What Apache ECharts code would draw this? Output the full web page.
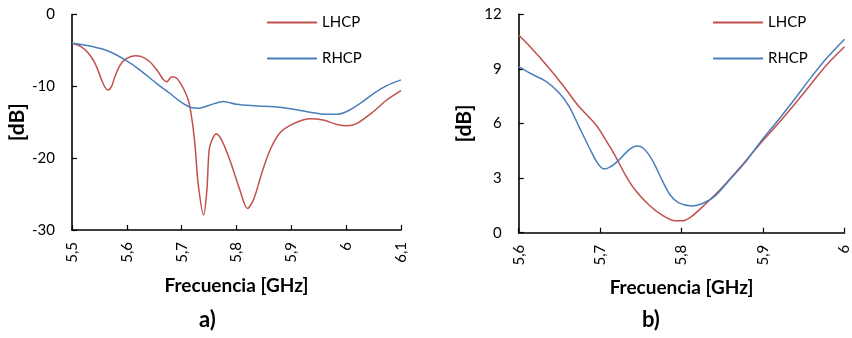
<!DOCTYPE html>
<html>
<head>
<meta charset="utf-8">
<script src="https://cdn.jsdelivr.net/npm/echarts@6/dist/echarts.min.js"></script>
<style>
  html, body { margin: 0; padding: 0; background: #fff; }
  #chart { width: 852px; height: 338px; }
</style>
</head>
<body>
<div id="chart"></div>
<script>
// a) sweep 5.5–6.1 GHz
const freqA_L = [5.5, 5.515, 5.530, 5.542, 5.554, 5.560, 5.566, 5.572, 5.578, 5.588, 5.600, 5.615, 5.627, 5.642, 5.657, 5.667, 5.673, 5.682, 5.691, 5.703, 5.712, 5.718, 5.724, 5.730, 5.740, 5.746, 5.750, 5.755, 5.763, 5.773, 5.788, 5.806, 5.820, 5.831, 5.846, 5.861, 5.879, 5.904, 5.934, 5.958, 5.983, 6.001, 6.019, 6.050, 6.074, 6.1];
const lhcpA = [-4.0, -4.4, -5.4, -6.8, -9.1, -10.1, -10.5, -10.05, -8.7, -7.0, -6.1, -5.73, -5.87, -6.57, -7.96, -9.1, -9.35, -8.66, -8.88, -10.27, -11.9, -14.2, -17.9, -23.5, -27.9, -24.4, -18.9, -17.5, -16.6, -17.5, -20.3, -24.4, -27.0, -25.8, -22.1, -18.9, -16.5, -15.2, -14.5, -14.7, -15.3, -15.5, -15.2, -13.5, -11.9, -10.6];
const freqA_R = [5.5, 5.533, 5.569, 5.597, 5.624, 5.654, 5.679, 5.697, 5.715, 5.730, 5.752, 5.776, 5.800, 5.831, 5.879, 5.904, 5.934, 5.964, 5.983, 6.001, 6.025, 6.050, 6.074, 6.1];
const rhcpA = [-4.0, -4.4, -5.18, -6.33, -7.73, -9.58, -11.0, -12.1, -12.9, -13.06, -12.6, -12.1, -12.5, -12.7, -12.9, -13.2, -13.6, -13.9, -13.9, -13.5, -12.4, -11.0, -9.9, -9.1];

// b) sweep 5.6–6.0 GHz
const freqB_L = [5.6, 5.614, 5.634, 5.654, 5.674, 5.695, 5.707, 5.719, 5.731, 5.743, 5.760, 5.776, 5.792, 5.802, 5.812, 5.828, 5.849, 5.869, 5.897, 5.917, 5.938, 5.958, 5.978, 6.0];
const lhcpB = [10.86, 10.22, 9.22, 8.12, 6.93, 5.92, 5.09, 4.18, 3.17, 2.35, 1.52, 0.97, 0.66, 0.66, 0.88, 1.52, 2.44, 3.44, 4.91, 5.92, 7.02, 8.12, 9.22, 10.22];
const freqB_R = [5.6, 5.614, 5.634, 5.650, 5.662, 5.674, 5.687, 5.697, 5.705, 5.713, 5.723, 5.735, 5.745, 5.753, 5.764, 5.776, 5.786, 5.796, 5.812, 5.824, 5.840, 5.857, 5.877, 5.897, 5.917, 5.938, 5.958, 5.978, 6.0];
const rhcpB = [9.12, 8.76, 8.30, 7.66, 6.93, 5.83, 4.64, 3.81, 3.50, 3.63, 3.99, 4.54, 4.76, 4.64, 3.99, 2.89, 2.07, 1.65, 1.47, 1.58, 1.98, 2.80, 3.81, 5.00, 6.10, 7.29, 8.48, 9.58, 10.63];

const seriesNames = ['LHCP', 'RHCP'];
const panelLabels = ['a)', 'b)'];
const xTitle = 'Frecuencia [GHz]';
const yTitle = '[dB]';

const RED = '#c0504d';
const BLUE = '#4a7ebb';
const FONT = 'Lato, "Open Sans", sans-serif';

const zip = (xs, ys) => xs.map((x, i) => [x, ys[i]]);
const fmtComma = v => String(+v.toFixed(2)).replace('.', ',');

function xAxisCfg(gi, min, max) {
  return {
    gridIndex: gi, type: 'value', min: min, max: max, interval: 0.1,
    axisLine: { show: true, onZero: false, lineStyle: { color: '#000', width: 1.6 } },
    axisTick: { show: true, inside: true, length: 5, lineStyle: { color: '#000', width: 1.2 } },
    splitLine: { show: false },
    axisLabel: { rotate: 90, margin: 12, fontSize: 15, color: '#000', fontFamily: FONT, formatter: fmtComma, showMaxLabel: true, showMinLabel: true },
    name: xTitle, nameLocation: 'middle', nameGap: 46,
    nameTextStyle: { fontSize: 19, fontWeight: 'bold', color: '#000', fontFamily: FONT }
  };
}
function yAxisCfg(gi, min, max, step) {
  return {
    gridIndex: gi, type: 'value', min: min, max: max, interval: step,
    axisLine: { show: true, onZero: false, lineStyle: { color: '#000', width: 1.6 } },
    axisTick: { show: true, inside: true, length: 5, lineStyle: { color: '#000', width: 1.2 } },
    splitLine: { show: false },
    axisLabel: { margin: 17, fontSize: 15, color: '#000', fontFamily: FONT },
    name: yTitle, nameLocation: 'middle', nameGap: 44, nameRotate: 90,
    nameTextStyle: { fontSize: 21, fontWeight: 'bold', color: '#000', fontFamily: FONT }
  };
}
function lineSeries(name, gi, data, color) {
  return {
    name: name, type: 'line', xAxisIndex: gi, yAxisIndex: gi, data: data,
    smooth: 0.3, symbol: 'none', clip: true,
    lineStyle: { color: color, width: 1.5 }, itemStyle: { color: color }
  };
}
function legendCfg(left) {
  return {
    orient: 'vertical', left: left, top: 9, itemWidth: 50, itemHeight: 2, itemGap: 19,
    icon: 'rect', data: seriesNames,
    textStyle: { fontSize: 15, color: '#000', fontFamily: FONT, lineHeight: 17, padding: [0, 0, 0, 0] }
  };
}

const chart = echarts.init(document.getElementById('chart'), null, { renderer: 'canvas' });
chart.setOption({
  animation: false,
  backgroundColor: '#fff',
  grid: [
    { left: 72, top: 14.5, width: 329, height: 215.5 },
    { left: 518.7, top: 14.3, width: 328.6, height: 218.4 }
  ],
  xAxis: [xAxisCfg(0, 5.5, 6.1), xAxisCfg(1, 5.6, 6.0)],
  yAxis: [yAxisCfg(0, -30, 0, 10), yAxisCfg(1, 0, 12, 3)],
  legend: [legendCfg(262), legendCfg(708)],
  series: [
    lineSeries(seriesNames[0], 0, zip(freqA_L, lhcpA), RED),
    lineSeries(seriesNames[1], 0, zip(freqA_R, rhcpA), BLUE),
    lineSeries(seriesNames[0], 1, zip(freqB_L, lhcpB), RED),
    lineSeries(seriesNames[1], 1, zip(freqB_R, rhcpB), BLUE)
  ],
  graphic: [
    { type: 'text', left: 199, top: 309, style: { text: panelLabels[0], fontSize: 22, fontWeight: 'bold', fill: '#000', fontFamily: FONT } },
    { type: 'text', left: 642, top: 309, style: { text: panelLabels[1], fontSize: 22, fontWeight: 'bold', fill: '#000', fontFamily: FONT } }
  ]
});
</script>
</body>
</html>
